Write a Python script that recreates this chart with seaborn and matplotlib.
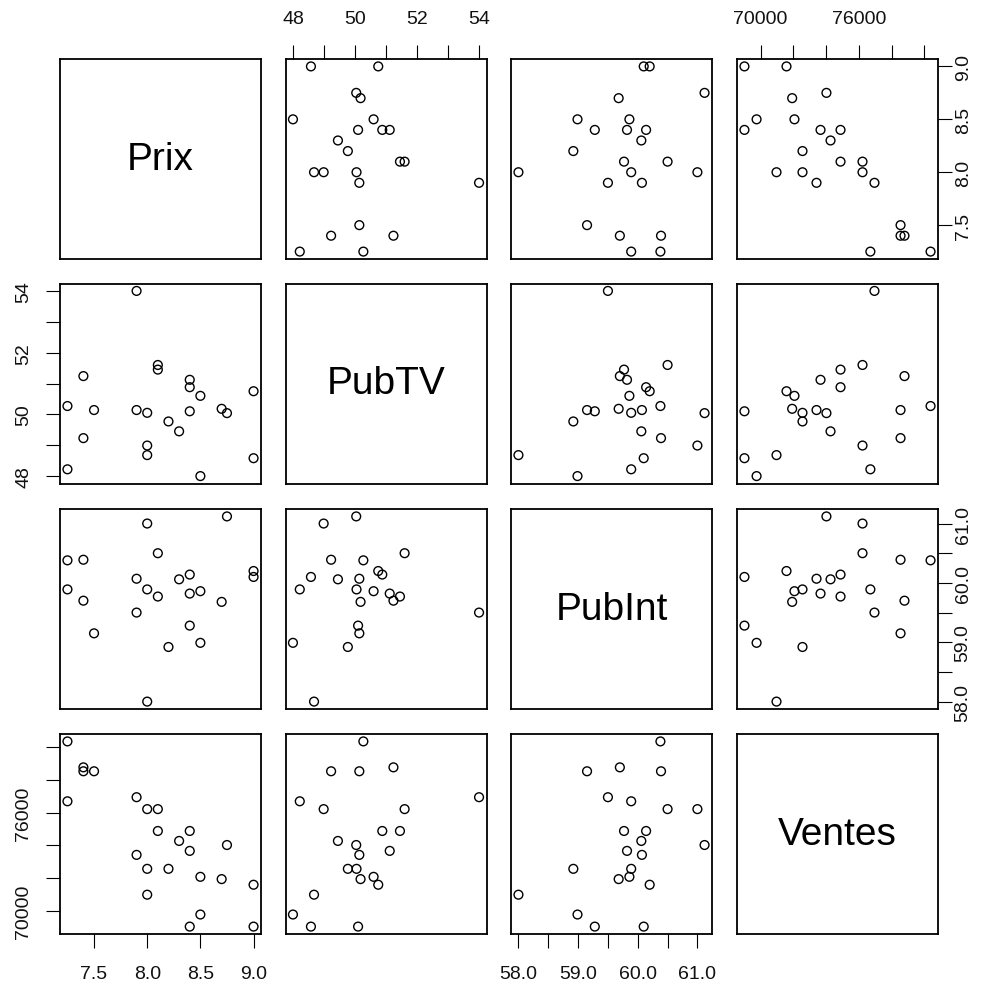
import matplotlib
matplotlib.use("Agg")
import matplotlib.pyplot as plt
import pandas as pd
import seaborn as sns

# Observations (one entry per row of the data set)
prix = [7.25, 7.4, 7.4, 7.5, 7.25, 7.9, 8.0, 8.1, 8.1, 8.4, 8.3, 8.4,
        8.75, 7.9, 8.0, 8.2, 8.5, 8.7, 9.0, 8.0, 8.5, 8.4, 9.0]
pub_tv = [50.27, 51.24, 49.23, 50.14, 48.22, 54.0, 48.99, 51.6, 51.45, 50.88, 49.45, 51.12,
          50.04, 50.14, 50.05, 49.77, 50.6, 50.18, 50.75, 48.68, 48.0, 50.1, 48.58]
pub_int = [60.38, 59.7, 60.39, 59.15, 59.89, 59.5, 61.0, 60.5, 59.77, 60.14, 60.06, 59.82,
           61.12, 60.07, 59.89, 58.92, 59.86, 59.68, 60.2, 58.0, 58.99, 59.28, 60.1]
ventes = [80370, 78780, 78540, 78540, 76700, 76950, 76220, 76220, 74880, 74880, 74270, 73660,
          74020, 73415, 72560, 72560, 72070, 71930, 71585, 70975, 69760, 69020, 69020]

names = ["Prix", "PubTV", "PubInt", "Ventes"]
df = pd.DataFrame({"Prix": prix, "PubTV": pub_tv, "PubInt": pub_int, "Ventes": ventes})

tick_pos = {
    "Prix": [7.5, 8.0, 8.5, 9.0],
    "PubTV": [48, 49, 50, 51, 52, 53, 54],
    "PubInt": [58.0, 58.5, 59.0, 59.5, 60.0, 60.5, 61.0],
    "Ventes": [70000, 72000, 74000, 76000, 78000, 80000],
}
tick_lab = {
    "Prix": ["7.5", "8.0", "8.5", "9.0"],
    "PubTV": ["48", "", "50", "", "52", "", "54"],
    "PubInt": ["58.0", "", "59.0", "", "60.0", "", "61.0"],
    "Ventes": ["70000", "", "", "76000", "", ""],
}

sns.set_theme(style="white")
plt.rcParams["font.family"] = ["Liberation Sans", "DejaVu Sans"]

W, H = 993, 987
fig = plt.figure(figsize=(W / 100, H / 100), dpi=100)
fig.patch.set_facecolor("white")

lefts = [60, 285.5, 511, 737]
tops = [60, 284.5, 510, 735]
pw, ph = 201, 200


def padded(v):
    lo, hi = min(v), max(v)
    r = hi - lo
    return lo - 0.04 * r, hi + 0.04 * r


limits = {n: padded(df[n]) for n in names}
n = len(names)
tick_kw = dict(direction="out", length=10, width=0.8, colors="black",
               labelsize=14, labelcolor="#111111")

for i, yname in enumerate(names):
    for j, xname in enumerate(names):
        ax = fig.add_axes([lefts[j] / W, 1 - (tops[i] + ph) / H, pw / W, ph / H])
        ax.set_facecolor("white")
        for sp in ax.spines.values():
            sp.set_visible(True)
            sp.set_color("black")
            sp.set_linewidth(1.3)
        ax.set_xlim(limits[xname])
        ax.set_ylim(limits[yname])
        if i == j:
            ax.text(0.5, 0.5, xname, transform=ax.transAxes, ha="center",
                    va="center", fontsize=28, color="black")
        else:
            sns.scatterplot(x=df[xname], y=df[yname], ax=ax, marker="o",
                            s=40, facecolor="none", edgecolor="black",
                            linewidth=1.0, legend=False)
        ax.set_xlabel("")
        ax.set_ylabel("")
        ax.set_xticks([])
        ax.set_yticks([])

        # column axes: bottom on odd columns, top on even columns
        if i == n - 1 and j % 2 == 0:
            ax.set_xticks(tick_pos[xname])
            ax.set_xticklabels(tick_lab[xname])
            ax.tick_params(axis="x", bottom=True, pad=12, **tick_kw)
        if i == 0 and j % 2 == 1:
            ax.xaxis.tick_top()
            ax.set_xticks(tick_pos[xname])
            ax.set_xticklabels(tick_lab[xname])
            ax.tick_params(axis="x", top=True, bottom=False, pad=13, **tick_kw)
        # row axes: left on even rows, right on odd rows
        if j == 0 and i % 2 == 1:
            ax.set_yticks(tick_pos[yname])
            ax.set_yticklabels(tick_lab[yname], rotation=90, va="center")
            ax.tick_params(axis="y", left=True, pad=10, **tick_kw)
        if j == n - 1 and i % 2 == 0:
            ax.yaxis.tick_right()
            ax.set_yticks(tick_pos[yname])
            ax.set_yticklabels(tick_lab[yname], rotation=90, va="center")
            ax.tick_params(axis="y", right=True, left=False, pad=2, **tick_kw)

fig.savefig("out.png", dpi=100, facecolor="white")
